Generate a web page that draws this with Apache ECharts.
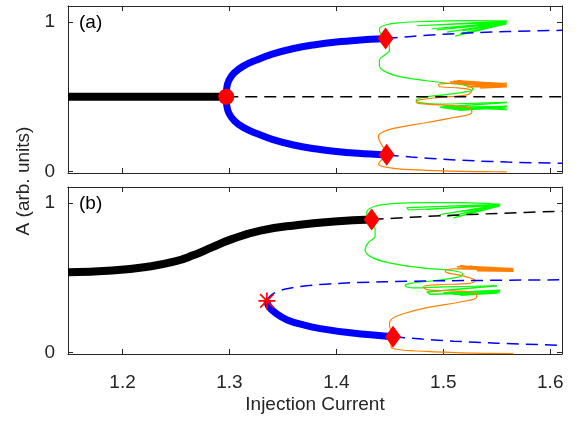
<!DOCTYPE html>
<html>
<head>
<meta charset="utf-8">
<script src="https://cdn.jsdelivr.net/npm/echarts@6/dist/echarts.min.js"></script>
<style>html,body{margin:0;padding:0;background:#fff}#main{width:583px;height:421px}</style>
</head>
<body>
<div id="main"></div>
<script>
var myChart = echarts.init(document.getElementById('main'));

var xTicks = [1.2, 1.3, 1.4, 1.5, 1.6];
var yTicks = [0, 1];

// ---- panel (a) ----
var stableA = [[1.149, 0.5], [1.297, 0.5]];
var unstableA = [[1.297, 0.5], [1.611, 0.5]];
var upperA = [[1.297,0.5],[1.2975,0.56],[1.2995,0.61],[1.3045,0.66],[1.3129,0.705],[1.325,0.745],[1.34,0.785],[1.36,0.823],[1.38,0.848],[1.40,0.866],[1.42,0.878],[1.446,0.889]];
var lowerA = [[1.297,0.5],[1.2975,0.44],[1.2995,0.39],[1.3045,0.34],[1.3129,0.295],[1.325,0.255],[1.34,0.215],[1.36,0.177],[1.38,0.152],[1.40,0.134],[1.42,0.122],[1.447,0.111]];
var upperDashA = [[1.446,0.889],[1.47,0.903],[1.5,0.918],[1.53,0.928],[1.56,0.936],[1.611,0.944]];
var lowerDashA = [[1.447,0.111],[1.47,0.097],[1.5,0.082],[1.53,0.071],[1.56,0.063],[1.611,0.055]];
var hopfA = [[1.297, 0.5]];
var diamondsA = [[1.446, 0.889], [1.447, 0.112]];
var greenArcA = [[1.4456,0.887],[1.4409,0.93],[1.4403,0.955],[1.446,0.98],[1.4600,0.995],[1.4846,1.004],[1.522,1.009],[1.5594,1.006]];
var greenFanA = [[1.5594,1.006],[1.4752,0.975],[1.4770,0.962],[1.5594,0.999],[1.4890,0.955],[1.5594,0.997],[1.4939,0.947],[1.5594,0.993],
  [1.5033,0.932],[1.5594,0.994],[1.5111,0.905],[1.5594,0.988],[1.5157,0.921],[1.5594,0.991],[1.522,0.932],[1.5594,0.995],[1.5282,0.943],
  [1.5594,0.992],[1.5376,0.954],[1.5594,0.998],[1.5469,0.97],[1.5594,1.0],[1.5300,0.958],[1.5594,0.996],[1.5180,0.940],[1.5594,0.999]];
var greenA = [[1.4456,0.887],[1.4496,0.842],[1.4496,0.809],[1.4456,0.782],[1.4403,0.746],[1.4403,0.708],[1.4471,0.663],[1.4627,0.630],
  [1.4846,0.607],[1.5064,0.589],[1.522,0.574],[1.5276,0.551],[1.522,0.534],[1.5002,0.513],[1.4814,0.496],[1.4746,0.478],[1.4768,0.462],
  [1.4939,0.451],[1.522,0.455],[1.5594,0.462]];
var greenClusterA = [[1.5594,0.462],[1.5127,0.438],[1.4970,0.430],[1.4955,0.42],[1.5157,0.4105],[1.5594,0.43],[1.5033,0.424],
  [1.5594,0.424],[1.5095,0.417],[1.5594,0.437],[1.5157,0.4285],[1.5594,0.415],[1.5002,0.433],[1.5594,0.428],[1.5064,0.420],[1.5594,0.433],
  [1.5220,0.414],[1.5594,0.425]];
var orangeA = [[1.447,0.112],[1.444,0.16],[1.4403,0.205],[1.4393,0.238],[1.4425,0.261],[1.4534,0.288],[1.4846,0.328],[1.5095,0.361],
  [1.5267,0.395],[1.5251,0.424],[1.5095,0.440],[1.4846,0.451],[1.4746,0.462],[1.4768,0.478],[1.4970,0.496],[1.5220,0.513],[1.5267,0.540],
  [1.5157,0.558],[1.4970,0.567],[1.4955,0.581],[1.5064,0.589],[1.5282,0.585],[1.5594,0.574]];
var orangeClusterA = [[1.5594,0.574],[1.5095,0.603],[1.5594,0.585],[1.5127,0.607],[1.5594,0.581],[1.5064,0.598],[1.5594,0.572],
  [1.5220,0.567],[1.5594,0.589],[1.5157,0.585],[1.5594,0.567],[1.5345,0.558],[1.5594,0.576],[1.5126,0.600],[1.5594,0.579],[1.5188,0.592],[1.5594,0.570]];
var orangeBottomA = [[1.447,0.112],[1.4425,0.08],[1.4393,0.05],[1.4534,0.021],[1.4846,0.008],[1.5157,0.001],[1.54,-0.001],[1.5594,-0.003]];

// ---- panel (b) ----
var stableB = [[1.149,0.537],[1.19,0.548],[1.2245,0.575],[1.249,0.609],[1.266,0.650],[1.284,0.705],[1.301,0.755],[1.329,0.815],[1.364,0.853],[1.398,0.876],[1.433,0.889]];
var dashB = [[1.433,0.889],[1.47,0.905],[1.5,0.916],[1.55,0.93],[1.611,0.945]];
var blueB = [[1.335,0.345],[1.337,0.305],[1.343,0.265],[1.354,0.218],[1.37,0.183],[1.385,0.160],[1.415,0.130],[1.453,0.105]];
var blueUpperDashB = [[1.335,0.345],[1.338,0.378],[1.344,0.405],[1.355,0.428],[1.372,0.446],[1.39,0.457],[1.42,0.468],[1.47,0.477],[1.53,0.482],[1.611,0.486]];
var blueLowerDashB = [[1.453,0.105],[1.48,0.09],[1.51,0.076],[1.55,0.062],[1.611,0.048]];
var foldB = [[1.335, 0.345]];
var diamondsB = [[1.433, 0.889], [1.453, 0.105]];
var greenArcB = [[1.4331,0.885],[1.4284,0.93],[1.4290,0.950],[1.4370,0.980],[1.4534,0.996],[1.4846,1.002],[1.5158,1.002],[1.5532,0.991]];
var greenFanB = [[1.5532,0.991],[1.4659,0.969],[1.4675,0.953],[1.5532,0.985],[1.4846,0.957],[1.5532,0.99],[1.4970,0.923],[1.5532,0.98],
  [1.5033,0.908],[1.5532,0.986],[1.5095,0.901],[1.5532,0.98],[1.5158,0.912],[1.5532,0.988],[1.5251,0.930],[1.5532,0.985],[1.5376,0.953],
  [1.5532,0.99],[1.5200,0.945],[1.5532,0.984],[1.5300,0.938],[1.5532,0.989]];
var greenB = [[1.4331,0.885],[1.4362,0.822],[1.4362,0.777],[1.4300,0.737],[1.4269,0.687],[1.4347,0.631],[1.4596,0.586],[1.4846,0.563],
  [1.5095,0.547],[1.5182,0.525],[1.5126,0.502],[1.4908,0.480],[1.4690,0.462],[1.4643,0.446],[1.4721,0.432],[1.5002,0.439],[1.5500,0.446]];
var greenClusterB = [[1.5500,0.446],[1.4846,0.405],[1.4877,0.39],[1.5158,0.394],[1.5532,0.417],[1.5002,0.399],[1.5532,0.405],[1.5095,0.390],
  [1.5532,0.399],[1.5158,0.383],[1.5500,0.412],[1.5126,0.405],[1.5532,0.41],[1.5050,0.393],[1.5532,0.402],[1.5200,0.388],[1.5532,0.408]];
var orangeB = [[1.4534,0.105],[1.4518,0.128],[1.4496,0.191],[1.4518,0.225],[1.4627,0.259],[1.4846,0.300],[1.5158,0.338],[1.5313,0.372],
  [1.5298,0.399],[1.5095,0.412],[1.4846,0.421],[1.4814,0.439],[1.4939,0.453],[1.5251,0.462],[1.5298,0.480],[1.5189,0.511],[1.5033,0.534],
  [1.5017,0.547],[1.5126,0.561]];
var orangeClusterB = [[1.5126,0.561],[1.5656,0.552],[1.5126,0.574],[1.5656,0.561],[1.5158,0.579],[1.5656,0.547],[1.5220,0.565],[1.5656,0.556],
  [1.5313,0.547],[1.5656,0.543],[1.5190,0.571],[1.5656,0.558],[1.5250,0.576],[1.5656,0.550]];
var orangeBottomB = [[1.4534,0.105],[1.4509,0.07],[1.4509,0.052],[1.4534,0.025],[1.4846,0.007],[1.5158,-0.002],[1.5656,-0.007]];

var axisColor = '#262626';
var font = 'Liberation Sans, Arial, sans-serif';
var asterisk = 'path://M0 9H20V11H0Z M9 0H11V20H9Z M1.4 2.8L2.8 1.4L18.6 17.2L17.2 18.6Z M17.2 1.4L18.6 2.8L2.8 18.6L1.4 17.2Z';

function xAx(grid, pos, labels) {
    return {
        type: 'value', gridIndex: grid, position: pos, min: 1.149, max: 1.611,
        axisLine: {show: true, onZero: false, lineStyle: {color: axisColor, width: 1}},
        axisTick: {show: true, inside: true, length: 5, customValues: xTicks, lineStyle: {color: axisColor}},
        axisLabel: {show: labels, customValues: xTicks, margin: 19, color: axisColor, fontSize: 19, fontFamily: font},
        splitLine: {show: false}
    };
}
function yAx(grid, pos, labels) {
    return {
        type: 'value', gridIndex: grid, position: pos, min: -0.01, max: 1.107,
        axisLine: {show: true, onZero: false, lineStyle: {color: axisColor, width: 1}},
        axisTick: {show: true, inside: true, length: 5, customValues: yTicks, lineStyle: {color: axisColor}},
        axisLabel: {show: labels, customValues: yTicks, margin: 13, color: axisColor, fontSize: 19, fontFamily: font},
        splitLine: {show: false}
    };
}
function line(data, p, color, width, dash, z, smooth) {
    return {
        type: 'line', data: data, xAxisIndex: p * 2, yAxisIndex: p * 2,
        showSymbol: false, symbol: 'none', z: z || 2, silent: true, smooth: smooth || false,
        lineStyle: {color: color, width: width, type: dash ? [12, 7] : 'solid', cap: 'butt'}
    };
}
function marks(data, p, symbol, size) {
    return {
        type: 'scatter', data: data, xAxisIndex: p * 2, yAxisIndex: p * 2,
        symbol: symbol, symbolSize: size, z: 10, silent: true,
        itemStyle: {color: '#ff0000', opacity: 1}
    };
}

option = {
    backgroundColor: '#ffffff',
    animation: false,
    grid: [
        {left: 68, right: 21, top: 6, height: 167},
        {left: 68, right: 21, top: 187, height: 167}
    ],
    xAxis: [xAx(0, 'bottom', false), xAx(0, 'top', false), xAx(1, 'bottom', true), xAx(1, 'top', false)],
    yAxis: [yAx(0, 'left', true), yAx(0, 'right', false), yAx(1, 'left', true), yAx(1, 'right', false)],
    graphic: [
        {type: 'text', x: 24, y: 181, rotation: Math.PI / 2,
         style: {text: 'A (arb. units)', align: 'center', verticalAlign: 'middle', fontSize: 19, fontFamily: font, fill: axisColor}},
        {type: 'text', x: 315, y: 405,
         style: {text: 'Injection Current', align: 'center', verticalAlign: 'middle', fontSize: 19, fontFamily: font, fill: axisColor}},
        {type: 'text', x: 79, y: 23,
         style: {text: '(a)', align: 'left', verticalAlign: 'middle', fontSize: 19, fontFamily: font, fill: '#000'}},
        {type: 'text', x: 79, y: 204,
         style: {text: '(b)', align: 'left', verticalAlign: 'middle', fontSize: 19, fontFamily: font, fill: '#000'}}
    ],
    series: [
        line(greenArcA, 0, '#00ff00', 1.2, false, 2, 0.4),
        line(greenFanA, 0, '#00ff00', 1.2),
        line(greenA, 0, '#00ff00', 1.2, false, 2, 0.4),
        line(greenClusterA, 0, '#00ff00', 1.5),
        line(orangeA, 0, '#ff8000', 1.2, false, 2, 0.4),
        line(orangeClusterA, 0, '#ff8000', 1.5),
        line(orangeBottomA, 0, '#ff8000', 1.2, false, 2, 0.4),
        line(stableA, 0, '#000000', 8, false, 4),
        line(unstableA, 0, '#000000', 1.5, true, 4),
        line(upperA, 0, '#0000ff', 7, false, 4, 0.4),
        line(lowerA, 0, '#0000ff', 7, false, 4, 0.4),
        line(upperDashA, 0, '#0000ff', 1.5, true, 4, 0.3),
        line(lowerDashA, 0, '#0000ff', 1.5, true, 4, 0.3),
        marks(hopfA, 0, 'circle', 16),
        marks(diamondsA, 0, 'diamond', [16, 22]),

        line(greenArcB, 1, '#00ff00', 1.2, false, 2, 0.4),
        line(greenFanB, 1, '#00ff00', 1.2),
        line(greenB, 1, '#00ff00', 1.2, false, 2, 0.4),
        line(greenClusterB, 1, '#00ff00', 1.5),
        line(orangeB, 1, '#ff8000', 1.2, false, 2, 0.4),
        line(orangeClusterB, 1, '#ff8000', 1.5),
        line(orangeBottomB, 1, '#ff8000', 1.2, false, 2, 0.4),
        line(stableB, 1, '#000000', 8, false, 4, 0.5),
        line(dashB, 1, '#000000', 1.5, true, 4, 0.3),
        line(blueB, 1, '#0000ff', 7, false, 4, 0.4),
        line(blueUpperDashB, 1, '#0000ff', 1.5, true, 4, 0.4),
        line(blueLowerDashB, 1, '#0000ff', 1.5, true, 4, 0.3),
        marks(foldB, 1, asterisk, 17),
        marks(diamondsB, 1, 'diamond', [16, 22])
    ]
};
myChart.setOption(option);
</script>
</body>
</html>
